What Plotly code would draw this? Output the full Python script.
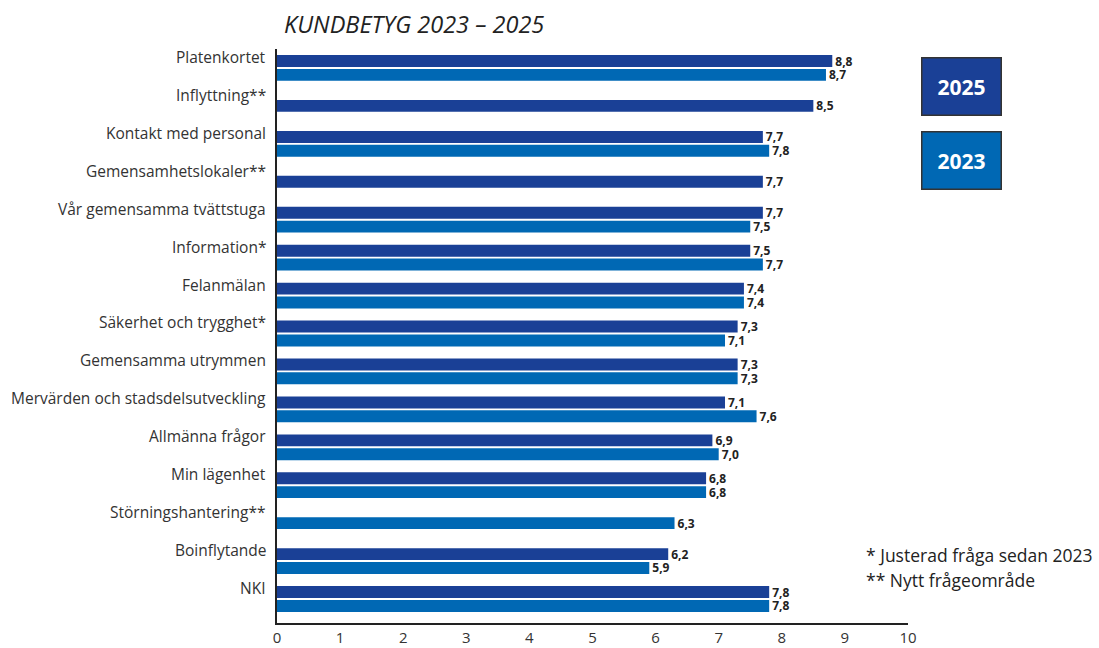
import plotly.graph_objects as go

categories = ["Platenkortet", "Inflyttning**", "Kontakt med personal", "Gemensamhetslokaler**",
              "Vår gemensamma tvättstuga", "Information*", "Felanmälan", "Säkerhet och trygghet*",
              "Gemensamma utrymmen", "Mervärden och stadsdelsutveckling", "Allmänna frågor",
              "Min lägenhet", "Störningshantering**", "Boinflytande", "NKI"]
v2025 = [8.8, 8.5, 7.7, 7.7, 7.7, 7.5, 7.4, 7.3, 7.3, 7.1, 6.9, 6.8, None, 6.2, 7.8]
v2023 = [8.7, None, 7.8, None, 7.5, 7.7, 7.4, 7.1, 7.3, 7.6, 7.0, 6.8, 6.3, 5.9, 7.8]
years = ["2025", "2023"]
x_ticks = list(range(0, 11))
title = "KUNDBETYG 2023 – 2025"
notes = ["* Justerad fråga sedan 2023", "** Nytt frågeområde"]

C25 = "#1a4096"
C23 = "#0068b4"
W = 0.315
G = 0.025
L, R, T, B = 277, 191, 49, 25
PW, PH = 1099 - L - R, 648 - T - B

def fmt(v):
    return "" if v is None else f"{v:.1f}".replace(".", ",")

def px(xp):
    return (xp - L) / PW

def py(yp):
    return 1 - (yp - T) / PH

off25 = [(-W / 2 if b is None else -(W + G)) for b in v2023]
off23 = [(-W / 2 if a is None else G) for a in v2025]

fig = go.Figure()
for vals, offs, col, name in [(v2025, off25, C25, years[0]), (v2023, off23, C23, years[1])]:
    fig.add_trace(go.Bar(
        y=categories, x=vals, orientation="h", name=name,
        marker=dict(color=col, line=dict(width=0)),
        width=W, offset=offs,
        text=[fmt(v) for v in vals], textposition="outside",
        textfont=dict(family="Open Sans", size=12, color="#222"),
        texttemplate="<b>%{text}</b>", constraintext="none", cliponaxis=False,
        hoverinfo="x+y",
    ))

fig.update_layout(
    width=1099, height=648,
    margin=dict(l=L, r=R, t=T, b=B, autoexpand=False),
    paper_bgcolor="white", plot_bgcolor="white",
    barmode="overlay", showlegend=False,
    font=dict(family="Open Sans", color="#333", size=15),
)
fig.update_xaxes(range=[0, 10], tickvals=x_ticks, showgrid=False, zeroline=False,
                 showline=True, linecolor="#222", linewidth=2, ticks="", automargin=False,
                 ticklabelstandoff=0,
                 tickfont=dict(size=15, color="#333"))
fig.update_yaxes(categoryorder="array", categoryarray=categories, autorange="reversed",
                 showticklabels=False, showgrid=False, zeroline=False, automargin=False,
                 showline=True, linecolor="#222", linewidth=2, ticks="")

for c in categories:
    fig.add_annotation(x=0, xref="paper", y=c, yref="y", text=c, showarrow=False,
                       xanchor="right", xshift=-9, yshift=11,
                       font=dict(size=15.5, color="#333"))

fig.add_annotation(x=px(282), xref="paper", y=py(24), yref="paper",
                   text=f"<i>{title}</i>", showarrow=False, xanchor="left", yanchor="middle",
                   font=dict(size=23.5, color="#222"))

for i, (yr, col) in enumerate(zip(years, [C25, C23])):
    fig.add_annotation(x=px(961), xref="paper", y=py(86 + 75 * i), yref="paper",
                       text=f"<b>{yr}</b>", showarrow=False, width=76, height=54,
                       bgcolor=col, bordercolor="#333", borderwidth=1.5,
                       font=dict(size=21, color="white"), xanchor="center", yanchor="middle")

for i, n in enumerate(notes):
    fig.add_annotation(x=px(864), xref="paper", y=py(555 + 25 * i), yref="paper",
                       text=n, showarrow=False, xanchor="left", yanchor="middle",
                       font=dict(size=17.5, color="#222"))

fig.write_html("out.html")
